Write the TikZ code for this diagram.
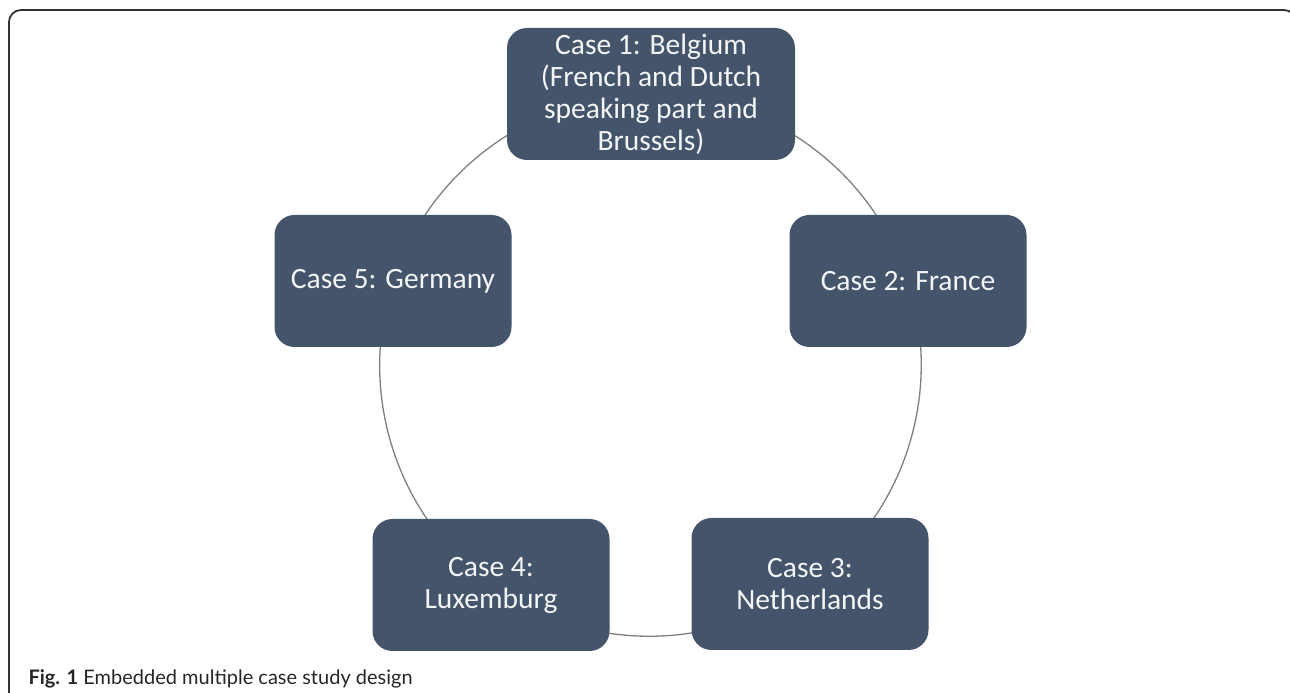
\documentclass[tikz,border=0pt]{standalone}
\usepackage{fontspec}
\setmainfont{Carlito}
\newfontfamily\capfont{Lato}
\usetikzlibrary{backgrounds}
\definecolor{slate}{HTML}{44546A}
\definecolor{ringgray}{HTML}{7F7F7F}
\definecolor{framegray}{HTML}{333333}
\tikzset{
    casebox/.style={fill=slate, rounded corners=20pt, minimum width=237pt,
        minimum height=132pt, inner sep=1pt, text=white!94!slate, align=center,
        font=\fontsize{29.5}{32}\selectfont},
    ring/.style={draw=ringgray, line width=1.3pt, looseness=0.94},
}

\begin{document}
\begin{tikzpicture}[x=1pt,y=1pt]
        \useasboundingbox (0,0) rectangle (1290,693);
        % frame round the figure
        \draw [framegray, line width=1.8pt, rounded corners=12pt] (9,-20) -- (9,683) -- (1296,683) -- (1296,-20);
        \node [anchor=base west, font=\capfont\fontsize{20}{23}\selectfont, text=black!85] (caption) at (25,8) {\textbf{Fig. 1} Embedded multiple case study design};
        % the five cases
        \node [casebox, minimum width=288pt] (belgium) at (651,599) {Case 1: Belgium\\(French and Dutch\\speaking part and\\Brussels)};
        \node [casebox] (france) at (908,412) {Case 2: France};
        \node [casebox] (netherlands) at (810,109) {Case 3:\\Netherlands};
        \node [casebox] (luxemburg) at (491,108) {Case 4:\\Luxemburg};
        \node [casebox] (germany) at (393,412) {Case 5: Germany};
        \begin{scope}[on background layer]
            \draw [ring] (belgium.center) to[out=0, in=108] (france.center);
            \draw [ring] (france.center) to[out=-72, in=36] (netherlands.center);
            \draw [ring] (netherlands.center) to[out=-144, in=-36] (luxemburg.center);
            \draw [ring] (luxemburg.center) to[out=144, in=-108] (germany.center);
            \draw [ring] (germany.center) to[out=72, in=180] (belgium.center);
        \end{scope}
    \end{tikzpicture}
\end{document}
